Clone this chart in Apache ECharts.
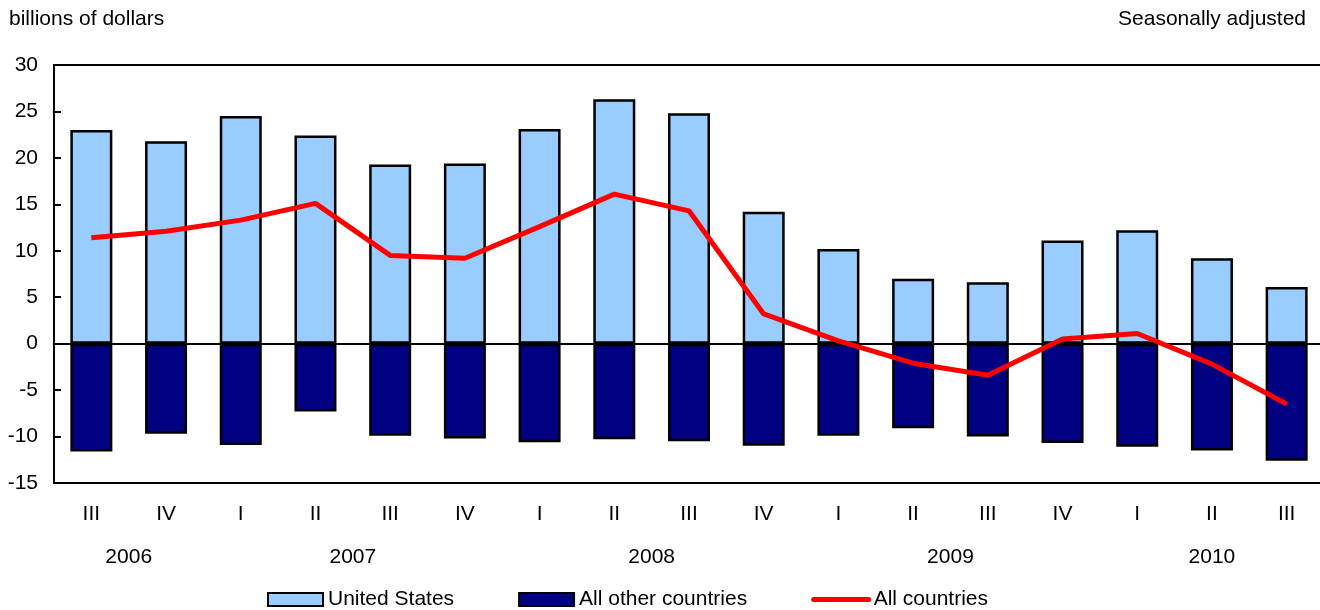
<!DOCTYPE html>
<html>
<head>
<meta charset="utf-8">
<script src="https://cdn.jsdelivr.net/npm/echarts@6/dist/echarts.min.js"></script>
<style>
  html, body { margin: 0; padding: 0; background: #fff; }
  #chart { width: 1320px; height: 610px; }
</style>
</head>
<body>
<div id="chart"></div>
<script>
// ---- data ----
const quarters = ['III','IV','I','II','III','IV','I','II','III','IV','I','II','III','IV','I','II','III'];
const yearOfQuarter = [2006,2006,2007,2007,2007,2007,2008,2008,2008,2008,2009,2009,2009,2009,2010,2010,2010];
const unitedStates = [23.0, 21.8, 24.5, 22.4, 19.3, 19.4, 23.1, 26.3, 24.8, 14.2, 10.2, 7.0, 6.6, 11.1, 12.2, 9.2, 6.1];
const allOtherCountries = [-11.6, -9.7, -10.9, -7.3, -9.9, -10.2, -10.6, -10.3, -10.5, -11.0, -9.9, -9.1, -10.0, -10.7, -11.1, -11.5, -12.6];
const allCountries = [11.4, 12.1, 13.3, 15.1, 9.5, 9.2, 12.6, 16.1, 14.3, 3.2, 0.3, -2.1, -3.4, 0.5, 1.1, -2.2, -6.5];
const yTicks = { min: -15, max: 30, step: 5 };

// year label positions derived from the quarter categories (centre of each year's group)
const yearGroups = {};
yearOfQuarter.forEach((y, i) => {
  (yearGroups[y] = yearGroups[y] || []).push(i);
});
const yearLabelAt = {};
Object.keys(yearGroups).forEach(y => {
  const idx = yearGroups[y];
  const c = (idx[0] + idx[idx.length - 1]) / 2;
  yearLabelAt[c.toFixed(1)] = String(y);
});

const FONT = 'Liberation Sans, Arial, Helvetica, sans-serif';
const FS = 21;
const chart = echarts.init(document.getElementById('chart'), null, { renderer: 'canvas' });

chart.setOption({
  animation: false,
  backgroundColor: '#fff',
  textStyle: { fontFamily: FONT, color: '#000' },
  title: [
    { text: 'billions of dollars', left: 9, top: 9, padding: 0,
      textStyle: { fontFamily: FONT, fontSize: FS, fontWeight: 'normal', color: '#000' } },
    { text: 'Seasonally adjusted', right: 14, top: 9, padding: 0,
      textStyle: { fontFamily: FONT, fontSize: FS, fontWeight: 'normal', color: '#000' } }
  ],
  legend: {
    left: 267, top: 589, padding: 0,
    itemWidth: 55, itemHeight: 13, itemGap: 64, itemTextGap: 5,
    textStyle: { fontFamily: FONT, fontSize: FS, color: '#000' },
    data: [
      { name: 'United States', icon: 'rect' },
      { name: 'All other countries', icon: 'rect' },
      { name: 'All countries', itemStyle: { opacity: 0 },
        lineStyle: { width: 5, color: '#FF0000', cap: 'round' } }
    ]
  },
  grid: {
    left: 54, top: 65, width: 1270, bottom: 127,
    outerBoundsMode: 'none',
    containLabel: false,
    show: true, borderColor: '#000', borderWidth: 2, backgroundColor: 'transparent'
  },
  xAxis: [
    {
      type: 'category',
      data: quarters,
      position: 'bottom',
      axisLine: { show: false, onZero: false },
      axisTick: { show: false },
      axisLabel: { fontFamily: FONT, fontSize: FS, color: '#000', margin: 21, interval: 0 }
    },
    {
      type: 'value',
      min: -0.5, max: quarters.length - 0.5, interval: 0.5,
      position: 'bottom',
      axisLine: { show: false, onZero: false },
      axisTick: { show: false },
      splitLine: { show: false },
      axisLabel: {
        fontFamily: FONT, fontSize: FS, color: '#000', margin: 64,
        showMinLabel: true, showMaxLabel: true, hideOverlap: false,
        formatter: v => yearLabelAt[Number(v).toFixed(1)] || ''
      }
    }
  ],
  yAxis: {
    type: 'value',
    min: yTicks.min, max: yTicks.max, interval: yTicks.step,
    axisLine: { show: true, onZero: false, lineStyle: { color: '#000', width: 2 } },
    axisTick: { show: true, inside: true, length: 7, lineStyle: { color: '#000', width: 2 } },
    splitLine: { show: false },
    axisLabel: { fontFamily: FONT, fontSize: FS, color: '#000', margin: 16 }
  },
  series: [
    {
      name: 'United States',
      type: 'bar',
      data: unitedStates,
      barWidth: 42,
      barGap: '-100%',
      itemStyle: { color: '#99CCFF', borderColor: '#000', borderWidth: 2.5 },
      z: 2,
      markLine: {
        silent: true,
        symbol: 'none',
        label: { show: false },
        lineStyle: { color: '#000', width: 2, type: 'solid' },
        data: [{ yAxis: 0 }],
        z: 5
      }
    },
    {
      name: 'All other countries',
      type: 'bar',
      data: allOtherCountries,
      barWidth: 42,
      barGap: '-100%',
      itemStyle: { color: '#000080', borderColor: '#000', borderWidth: 2.5 },
      z: 2
    },
    {
      name: 'All countries',
      type: 'line',
      data: allCountries,
      symbol: 'none',
      showSymbol: false,
      lineStyle: { color: '#FF0000', width: 5 },
      itemStyle: { color: '#FF0000' },
      z: 10
    }
  ]
});
</script>
</body>
</html>
